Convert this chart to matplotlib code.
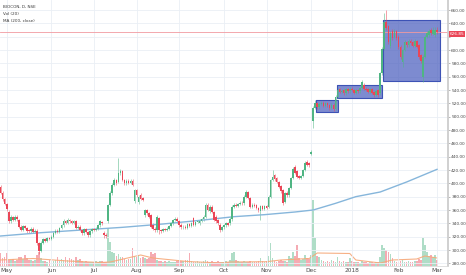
import matplotlib
matplotlib.use("Agg")
import matplotlib.pyplot as plt
from matplotlib.patches import Rectangle

# ---------------- data ----------------
month_idx = [3, 25, 46, 67, 88, 110, 131, 153, 173, 196, 215]
month_lbl = ["May", "Jun", "Jul", "Aug", "Sep", "Oct", "Nov", "Dec", "2018", "Feb", "Mar"]

opens = [395, 386, 376, 369, 357, 343, 349, 345, 350, 345,
         335, 330, 336, 333, 330, 328, 332, 327, 329, 310,
         299, 311, 316, 314, 318, 317, 320, 326, 329, 327,
         333, 337, 343, 341, 345, 343, 341, 343, 333, 335,
         330, 325, 331, 327, 322, 328, 331, 330, 332, 337,
         342, 326, 323, 343, 368, 385, 398, 405, 402, 415,
         418, 405, 400, 404, 401, 404, 373, 390, 372, 383,
         378, 352, 360, 355, 352, 338, 332, 330, 348, 330,
         329, 331, 330, 332, 336, 340, 345, 347, 343, 338,
         334, 335, 333, 339, 336, 348, 338, 342, 340, 344,
         346, 350, 368, 358, 365, 357, 350, 345, 338, 330,
         334, 337, 340, 340, 346, 365, 368, 366, 369, 371,
         370, 380, 387, 378, 365, 368, 367, 363, 358, 366,
         362, 366, 365, 380, 405, 412, 408, 402, 396, 390,
         372, 386, 382, 393, 408, 424, 418, 411, 408, 411,
         420, 432, 430, 444, 493, 513, 520, 514, 519, 521,
         516, 520, 517, 513, 518, 512, 530, 541, 537, 540,
         535, 541, 538, 542, 540, 536, 540, 538, 543, 548,
         542, 541, 537, 541, 537, 533, 540, 535, 565, 602,
         642, 636, 606, 628, 620, 628, 620, 605, 582, 600,
         612, 607, 613, 612, 606, 613, 607, 592, 560, 590,
         620, 622, 630, 624, 622, 630]
closes = [386, 376, 369, 362, 343, 350, 345, 350, 346, 335,
          330, 336, 333, 328, 328, 332, 327, 329, 310, 298,
          311, 316, 314, 318, 317, 320, 326, 329, 327, 333,
          337, 343, 341, 345, 343, 341, 343, 333, 335, 330,
          325, 331, 327, 322, 328, 331, 330, 332, 337, 343,
          340, 322, 321, 367, 385, 398, 405, 400, 415, 418,
          405, 400, 404, 401, 404, 398, 390, 382, 380, 377,
          375, 360, 355, 350, 335, 332, 330, 350, 330, 329,
          331, 330, 332, 336, 340, 345, 347, 343, 337, 334,
          335, 333, 339, 336, 340, 338, 342, 343, 344, 346,
          350, 368, 360, 365, 357, 345, 343, 340, 330, 334,
          337, 340, 338, 347, 365, 368, 366, 369, 371, 370,
          380, 387, 378, 365, 368, 366, 363, 360, 366, 362,
          366, 363, 380, 405, 410, 406, 402, 395, 388, 370,
          385, 382, 393, 408, 422, 416, 410, 408, 411, 420,
          430, 428, 427, 447, 513, 520, 514, 519, 521, 516,
          520, 517, 513, 518, 512, 530, 540, 537, 539, 535,
          541, 538, 542, 540, 536, 540, 538, 543, 552, 542,
          540, 537, 541, 536, 533, 538, 533, 565, 602, 642,
          633, 612, 625, 618, 628, 618, 605, 590, 600, 612,
          607, 613, 610, 606, 613, 605, 590, 583, 590, 620,
          625, 628, 625, 630, 630, 626.85]
highs = [398, 388, 378, 371, 360, 352, 351, 352, 352, 347,
         337, 338, 338, 335, 332, 334, 334, 331, 331, 312,
         313, 318, 318, 320, 320, 322, 328, 331, 331, 335,
         339, 346, 345, 348, 347, 345, 345, 345, 337, 337,
         332, 333, 333, 329, 330, 333, 333, 334, 339, 345,
         344, 328, 325, 369, 388, 400, 408, 407, 438, 422,
         420, 407, 406, 406, 406, 406, 392, 392, 382, 385,
         380, 362, 362, 357, 354, 340, 334, 352, 350, 332,
         333, 333, 334, 338, 342, 347, 349, 349, 345, 340,
         337, 337, 341, 341, 342, 350, 344, 345, 346, 348,
         352, 371, 370, 367, 367, 359, 352, 347, 340, 336,
         339, 342, 342, 349, 367, 371, 370, 371, 373, 373,
         382, 390, 389, 380, 370, 370, 369, 365, 368, 368,
         368, 368, 382, 407, 420, 414, 410, 404, 398, 392,
         387, 388, 395, 410, 425, 427, 420, 413, 413, 422,
         433, 435, 432, 450, 516, 525, 522, 521, 523, 523,
         522, 522, 519, 520, 520, 532, 543, 543, 541, 542,
         543, 543, 544, 544, 542, 542, 542, 545, 555, 550,
         544, 543, 543, 543, 539, 540, 542, 567, 604, 655,
         660, 638, 628, 631, 631, 630, 622, 607, 602, 615,
         614, 616, 616, 614, 616, 615, 609, 594, 592, 623,
         628, 632, 633, 634, 635, 634]
lows = [384, 374, 367, 359, 341, 341, 343, 343, 344, 333,
        328, 328, 331, 326, 326, 326, 325, 325, 308, 294,
        297, 309, 312, 312, 315, 315, 318, 324, 325, 325,
        331, 335, 339, 339, 341, 339, 339, 331, 331, 328,
        322, 323, 325, 319, 320, 326, 328, 328, 330, 335,
        338, 318, 318, 340, 366, 383, 396, 398, 400, 412,
        403, 398, 398, 399, 399, 396, 371, 380, 369, 375,
        373, 350, 353, 348, 333, 330, 327, 327, 324, 326,
        327, 328, 328, 330, 334, 338, 343, 341, 335, 332,
        332, 331, 331, 334, 334, 336, 336, 340, 338, 342,
        344, 348, 358, 356, 355, 343, 341, 338, 327, 328,
        332, 335, 336, 338, 344, 363, 364, 364, 367, 368,
        368, 378, 376, 363, 363, 364, 361, 357, 345, 360,
        360, 361, 363, 378, 403, 404, 400, 393, 386, 368,
        370, 380, 380, 391, 406, 414, 408, 406, 406, 409,
        418, 426, 425, 442, 483, 511, 512, 512, 517, 514,
        514, 515, 510, 511, 509, 510, 528, 535, 535, 533,
        533, 536, 536, 538, 534, 534, 536, 536, 541, 540,
        538, 535, 535, 534, 530, 531, 530, 533, 563, 600,
        630, 609, 603, 615, 618, 615, 602, 586, 575, 598,
        605, 605, 608, 604, 604, 603, 587, 580, 552, 588,
        618, 620, 622, 622, 620, 624]
# volume in thousands of shares
volumes = [1300, 800, 900, 1300, 600, 600, 700, 500, 600, 900,
           900, 700, 1100, 800, 600, 600, 500, 600, 1100, 1400,
           800, 500, 500, 400, 600, 500, 500, 600, 900, 500,
           700, 600, 900, 600, 800, 700, 600, 900, 600, 700,
           500, 400, 500, 400, 400, 400, 400, 500, 400, 500,
           500, 400, 400, 3800, 2400, 1400, 1300, 1000, 1200, 900,
           900, 700, 600, 700, 700, 1800, 1000, 900, 1100, 800,
           900, 800, 700, 800, 1400, 1200, 1300, 600, 500, 500,
           400, 500, 400, 500, 400, 400, 400, 500, 600, 500,
           500, 600, 600, 1300, 500, 400, 400, 500, 400, 400,
           500, 600, 500, 400, 500, 400, 400, 500, 400, 400,
           400, 500, 400, 600, 1300, 1400, 600, 500, 400, 400,
           500, 400, 400, 500, 400, 400, 400, 500, 800, 500,
           400, 500, 1000, 2300, 800, 500, 400, 500, 600, 500,
           500, 400, 1000, 800, 1400, 1000, 2100, 800, 600, 700,
           1100, 800, 700, 1100, 6600, 2800, 1000, 900, 600, 500,
           400, 500, 400, 600, 500, 400, 900, 500, 400, 500,
           400, 400, 800, 500, 400, 400, 400, 300, 500, 400,
           400, 300, 400, 400, 300, 400, 400, 900, 2100, 1800,
           1600, 1400, 1200, 800, 500, 400, 400, 500, 600, 400,
           400, 500, 400, 400, 500, 500, 700, 600, 2800, 2100,
           1400, 1000, 1100, 900, 1100, 600]

# MA(200, close) read at a few bars
ma_idx = [0, 20, 40, 60, 80, 100, 115, 130, 145, 154, 165, 175, 187, 200, 215]
ma_val = [321, 326, 330, 334, 339, 345, 350, 353, 357, 360, 370, 380, 387, 402, 421]
# Vol MA(20) read at a few bars (thousands)
vma_idx = [0, 16, 33, 49, 54, 69, 75, 92, 108, 113, 131, 138, 152, 156, 172, 175, 187, 193, 205, 209, 215]
vma_val = [600, 750, 500, 350, 400, 1100, 800, 450, 300, 400, 430, 600, 750, 1300, 1250, 600, 300, 600, 700, 1000, 800]

# drawn rectangles: (start bar, end bar, low price, high price)
boxes = [(155.4, 166.2, 507, 525), (165.9, 187.9, 528, 547), (188.4, 216.5, 554, 645)]

last_price = 626.85
price_ticks = list(range(280, 661, 20))

# ---------------- drawing ----------------
UP = "#4fb583"
DN = "#ea4657"

W, H = 466, 275
fig = plt.figure(figsize=(W / 100, H / 100), dpi=100)
rect = [0, 9 / H, 448 / W, 266 / H]

axv = fig.add_axes(rect, zorder=1)
ax = fig.add_axes(rect, zorder=2)
ax.patch.set_visible(False)

n = len(closes)
xs = list(range(n))
cols = [UP if c >= o else DN for o, c in zip(opens, closes)]

xlim = (-0.3, 220.4)

# volume pane
axv.bar(xs, volumes, width=0.8, color=cols, alpha=0.45, linewidth=0)
axv.plot(vma_idx, vma_val, color="#f6a878", lw=0.8, alpha=0.9)
axv.set_xlim(*xlim)
axv.set_ylim(0, 26600)
axv.axis("off")

# grid
for m in month_idx:
    ax.axvline(m, color="#eaeff5", lw=0.6, zorder=0)
for p in price_ticks:
    ax.axhline(p, color="#eaeff5", lw=0.6, zorder=0)

# boxes
for b0, b1, lo, hi in boxes:
    ax.add_patch(Rectangle((b0, lo), b1 - b0, hi - lo, facecolor="#4b5fbe",
                           alpha=0.72, edgecolor="none", zorder=1))
    ax.add_patch(Rectangle((b0, lo), b1 - b0, hi - lo, facecolor="none",
                           edgecolor="#3d52b5", lw=0.8, zorder=1.1))

# last price line
ax.axhline(last_price, color="#f19aa0", lw=0.6, zorder=1.5)

# candles
ax.vlines(xs, lows, highs, colors=cols, lw=0.6, alpha=0.6, zorder=2)
bottoms = [min(o, c) for o, c in zip(opens, closes)]
heights = [max(abs(c - o), 0.9) for o, c in zip(opens, closes)]
ax.bar(xs, heights, bottom=bottoms, width=0.8, color=cols, linewidth=0, zorder=3)

# MA 200
ax.plot(ma_idx, ma_val, color="#86b6db", lw=1.0, zorder=2.5)

ax.set_xlim(*xlim)
ax.set_ylim(276, 675)

# axes styling
for s in ["top", "left"]:
    ax.spines[s].set_visible(False)
ax.spines["right"].set_color("#cdcdcd")
ax.spines["right"].set_linewidth(1.3)
ax.spines["bottom"].set_color("#dadada")
ax.spines["bottom"].set_linewidth(0.6)

ax.yaxis.tick_right()
ax.set_yticks(price_ticks)
# the 620 label sits under the last-price tag, as in the reference
ax.set_yticklabels(["" if p == 620 else f"{p:.2f}" for p in price_ticks])
ax.tick_params(axis="y", length=1.5, width=0.5, color="#9a9a9a", labelsize=3.1,
               labelcolor="#4a4a4a", pad=0.8)
ax.set_xticks(month_idx)
ax.set_xticklabels(month_lbl)
ax.tick_params(axis="x", length=0, labelsize=4.2, labelcolor="#4a4a4a", pad=1.5)

# last price tag
fig.text(457 / W, 1 - 34 / H, f"{last_price:.2f}", color="white", fontsize=3.1,
         ha="center", va="center",
         bbox=dict(boxstyle="square,pad=0.25", facecolor=DN, edgecolor="none"))

# legend text
for i, t in enumerate(["BIOCON, D, NSE", "Vol (20)", "MA (200, close)"]):
    fig.text(3 / W, 1 - (6.7 + 7 * i) / H, t, fontsize=3.0, color="#3a3a3a",
             ha="left", va="center")

fig.savefig("out.png", dpi=100)
